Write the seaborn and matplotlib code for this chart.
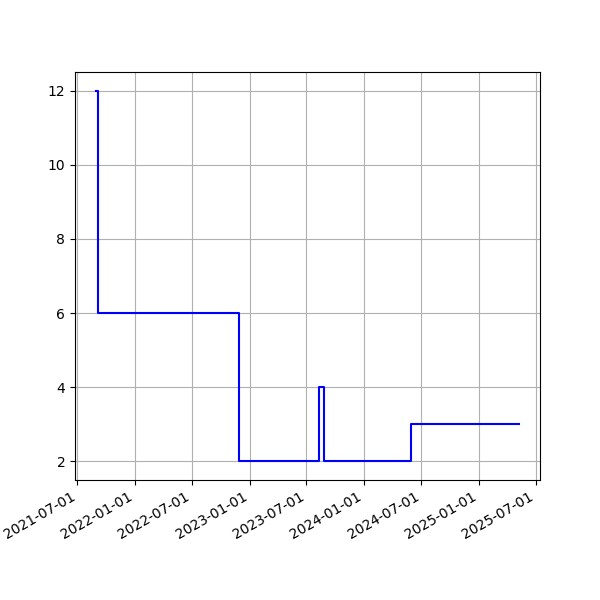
import pandas as pd
import matplotlib
matplotlib.use('Agg')
import matplotlib.pyplot as plt
import matplotlib.dates as mdates
import seaborn as sns

# step change dates and the value held from each date onward
dates = ['2021-08-30', '2021-09-06', '2022-11-28', '2023-08-11',
         '2023-08-25', '2024-05-28', '2025-05-08']
values = [12, 6, 2, 4, 2, 3, 3]

df = pd.DataFrame({'date': pd.to_datetime(dates), 'value': values})

fig, ax = plt.subplots(figsize=(6, 6), dpi=100)
sns.lineplot(data=df, x='date', y='value', color='blue',
             drawstyle='steps-post', ax=ax)
ax.set_xlabel('')
ax.set_ylabel('')
ax.grid(True)
ax.xaxis.set_major_locator(mdates.MonthLocator(bymonth=[1, 7]))
ax.xaxis.set_major_formatter(mdates.DateFormatter('%Y-%m-%d'))
fig.autofmt_xdate()

plt.savefig('out.png', dpi=100)
